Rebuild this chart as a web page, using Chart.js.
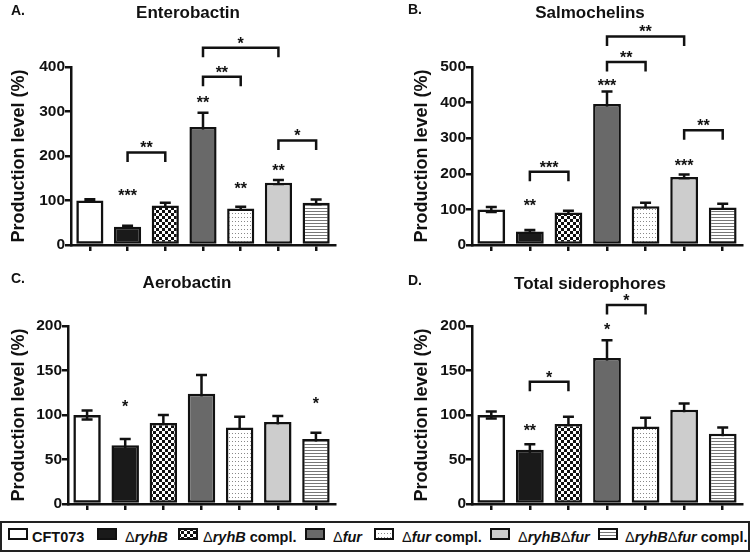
<!DOCTYPE html>
<html>
<head>
<meta charset="utf-8">
<script src="https://cdn.jsdelivr.net/npm/chart.js@4.4.0/dist/chart.umd.min.js"></script>
<style>
  body { margin: 0; background: #fff; width: 750px; height: 552px; position: relative; overflow: hidden;
         font-family: "Liberation Sans", Arial, sans-serif; color: #111; }
  .panel { position: absolute; width: 375px; height: 260px; }
  .letter { position: absolute; font-weight: bold; font-size: 14px; line-height: 1; }
  .title { position: absolute; font-weight: bold; font-size: 17px; line-height: 1; transform: translateX(-50%); white-space: nowrap; }
  #legend { position: absolute; left: 0; top: 521px; width: 746px; height: 27px; border: 2px solid #222; }
  .icon { position: absolute; top: 5px; }
  .lbl { position: absolute; top: 7px; font-weight: bold; font-size: 14.5px; line-height: 1; white-space: nowrap; }
  .lbl .d { font-weight: normal; }
</style>
</head>
<body>
<canvas id="chartA" class="panel" width="375" height="260" style="left:0;top:0"></canvas>
<canvas id="chartB" class="panel" width="375" height="260" style="left:375px;top:0"></canvas>
<canvas id="chartC" class="panel" width="375" height="260" style="left:0;top:260px"></canvas>
<canvas id="chartD" class="panel" width="375" height="260" style="left:375px;top:260px"></canvas>

<div class="letter" style="left:11px;top:3px">A.</div>
<div class="letter" style="left:408px;top:2px">B.</div>
<div class="letter" style="left:11px;top:271px">C.</div>
<div class="letter" style="left:408px;top:273px">D.</div>
<div class="title" style="left:188px;top:4px">Enterobactin</div>
<div class="title" style="left:590px;top:4px">Salmochelins</div>
<div class="title" style="left:187px;top:274px">Aerobactin</div>
<div class="title" style="left:590px;top:275px">Total siderophores</div>

<div id="legend"></div>

<script>
// strains (x categories)
const strains = ["CFT073", "ΔryhB", "ΔryhB compl.", "Δfur", "Δfur compl.", "ΔryhBΔfur", "ΔryhBΔfur compl."];

// A. Enterobactin
const enteroMean = [100, 41, 89, 265, 82, 140, 95];
const enteroErr = [3, 2, 6, 32, 4, 6, 7];
// B. Salmochelins
const salmoMean = [100, 38, 91, 396, 109, 191, 105];
const salmoErr = [7, 4, 5, 35, 10, 7, 11];
// C. Aerobactin
const aeroMean = [100, 66, 91, 124, 86, 92, 73];
const aeroErr = [5, 7, 9, 21, 12, 7, 7];
// D. Total siderophores
const totalMean = [100, 61, 90, 164, 87, 106, 79];
const totalErr = [4, 6, 8, 20, 10, 7, 7];

// significance over single bars: [bar index, label, height in %]
const enteroStars = [[1, "***", 120], [3, "**", 327], [4, "**", 135], [5, "**", 176]];
const salmoStars = [[1, "**", 121], [3, "***", 458], [5, "***", 234]];
const aeroStars = [[1, "*", 114], [6, "*", 117]];
const totalStars = [[1, "**", 87], [3, "*", 200]];

// brackets between bars: [from, to, height in %, label]
const enteroBrackets = [[1, 2, 208, "**"], [3, 4, 378, "**"], [3, 5, 443, "*"], [5, 6, 235, "*"]];
const salmoBrackets = [[1, 2, 206, "***"], [3, 4, 514, "**"], [3, 5, 586, "**"], [5, 6, 322, "**"]];
const aeroBrackets = [];
const totalBrackets = [[1, 2, 137.5, "*"], [3, 4, 223.6, "*"]];

const INK = "#111";
const FONT = "'Liberation Sans', Arial, sans-serif";

function makeFill(kind) {
  if (kind === "white") return "rgba(255,255,255,0)";
  if (kind === "black") return "#1a1a1a";
  if (kind === "dark") return "#696969";
  if (kind === "light") return "#cdcdcd";
  let c = document.createElement("canvas");
  let g = c.getContext("2d");
  if (kind === "checker") {
    c.width = 6; c.height = 6;
    g.fillStyle = "#fff"; g.fillRect(0, 0, 6, 6);
    g.fillStyle = "#111"; g.fillRect(0, 0, 3, 3); g.fillRect(3, 3, 3, 3);
  } else if (kind === "dots") {
    c.width = 3; c.height = 4;
    g.fillStyle = "#fff"; g.fillRect(0, 0, 3, 4);
    g.fillStyle = "#888"; g.fillRect(1, 1, 1, 1);
  } else if (kind === "stripes") {
    c.width = 4; c.height = 3;
    g.fillStyle = "#fff"; g.fillRect(0, 0, 4, 3);
    g.fillStyle = "#777"; g.fillRect(0, 1, 4, 1);
  }
  return g.createPattern(c, "repeat");
}

const fillKinds = ["white", "black", "checker", "dark", "dots", "light", "stripes"];
const fills = fillKinds.map(makeFill);

const annotate = {
  id: "annotate",
  beforeDatasetsDraw(chart) {
    let ctx = chart.ctx, xs = chart.scales.x, ys = chart.scales.y;
    let ds = chart.data.datasets[0];
    ctx.save();
    ctx.strokeStyle = INK;
    ctx.lineWidth = 2.5;
    ds.data.forEach(function (m, i) {
      let cx = xs.getPixelForValue(i);
      let yt = ys.getPixelForValue(m + ds.errors[i]);
      let yb = ys.getPixelForValue(m - ds.errors[i]);
      ctx.beginPath();
      ctx.moveTo(cx, yb); ctx.lineTo(cx, yt);
      ctx.moveTo(cx - 5.5, yt); ctx.lineTo(cx + 5.5, yt);
      ctx.moveTo(cx - 5.5, yb); ctx.lineTo(cx + 5.5, yb);
      ctx.stroke();
    });
    ctx.restore();
  },
  afterDatasetsDraw(chart, args, opts) {
    let ctx = chart.ctx, xs = chart.scales.x, ys = chart.scales.y;
    ctx.save();
    ctx.fillStyle = INK;
    ctx.strokeStyle = INK;
    ctx.lineWidth = 2.5;
    ctx.font = "bold 16px " + FONT;
    ctx.textAlign = "center";
    ctx.textBaseline = "alphabetic";
    opts.stars.forEach(function (s) {
      ctx.fillText(s[1], xs.getPixelForValue(s[0]), ys.getPixelForValue(s[2]) + 9);
    });
    opts.brackets.forEach(function (b) {
      let x1 = xs.getPixelForValue(b[0]), x2 = xs.getPixelForValue(b[1]);
      let y = ys.getPixelForValue(b[2]);
      ctx.beginPath();
      ctx.moveTo(x1, y + 9.5); ctx.lineTo(x1, y); ctx.lineTo(x2, y); ctx.lineTo(x2, y + 9.5);
      ctx.stroke();
      ctx.fillText(b[3], (x1 + x2) / 2, y - 8 + 9);
    });
    ctx.restore();
  }
};

function makePanel(id, means, errs, yMax, yStep, stars, brackets, box) {
  let ctx = document.getElementById(id).getContext("2d");
  return new Chart(ctx, {
    type: "bar",
    data: {
      labels: strains,
      datasets: [{
        data: means,
        errors: errs,
        backgroundColor: fills,
        borderColor: INK,
        borderWidth: 2.5,
        borderSkipped: false,
        barPercentage: 0.72,
        categoryPercentage: 1
      }]
    },
    options: {
      responsive: false,
      animation: false,
      events: [],
      layout: { padding: { left: box.left, top: box.top, right: box.right, bottom: box.bottom } },
      plugins: {
        legend: { display: false },
        tooltip: { enabled: false },
        annotate: { stars: stars, brackets: brackets }
      },
      scales: {
        x: {
          offset: true,
          grid: { drawOnChartArea: false, offset: false, drawTicks: true, tickLength: 6, color: INK, lineWidth: 2.5 },
          border: { color: INK, width: 2.5 },
          ticks: { display: false },
          afterFit: function (s) { s.height = 15; }
        },
        y: {
          min: 0,
          max: yMax,
          ticks: { stepSize: yStep, color: INK, padding: 0, font: { family: FONT, size: 15.5, weight: "bold" } },
          grid: { drawOnChartArea: false, drawTicks: true, tickLength: 6, color: INK, lineWidth: 2.5 },
          border: { color: INK, width: 2.5 },
          title: { display: true, text: "Production level (%)", color: INK, padding: { top: 0, bottom: 0 },
                   font: { family: FONT, size: 18, weight: "bold" } },
          afterFit: function (s) { s.width = box.axisW; }
        }
      }
    },
    plugins: [annotate]
  });
}

makePanel("chartA", enteroMean, enteroErr, 400, 100, enteroStars, enteroBrackets, { left: 8, axisW: 63, top: 67, right: 40, bottom: 0 });
makePanel("chartB", salmoMean, salmoErr, 500, 100, salmoStars, salmoBrackets, { left: 36, axisW: 61, top: 67, right: 8, bottom: 0 });
makePanel("chartC", aeroMean, aeroErr, 200, 50, aeroStars, aeroBrackets, { left: 8, axisW: 60, top: 66, right: 40, bottom: 1 });
makePanel("chartD", totalMean, totalErr, 200, 50, totalStars, totalBrackets, { left: 36, axisW: 61, top: 66, right: 8, bottom: 1 });

// legend
const iconLeft = [8, 97, 178, 305, 374, 490, 598];
const textLeft = [32, 125, 203, 333, 402, 518, 625];
let legend = document.getElementById("legend");
strains.forEach(function (name, i) {
  let c = document.createElement("canvas");
  c.width = 20; c.height = 12;
  c.className = "icon";
  c.style.left = (iconLeft[i] - 2) + "px";
  let g = c.getContext("2d");
  g.fillStyle = fills[i];
  g.fillRect(0, 0, 20, 12);
  g.strokeStyle = INK;
  g.lineWidth = 2;
  g.strokeRect(1, 1, 18, 10);
  legend.appendChild(c);
  let t = document.createElement("div");
  t.className = "lbl";
  t.style.left = (textLeft[i] - 2) + "px";
  t.innerHTML = name.replace(/(ryhB|fur)/g, "<i>$1</i>").replace(/Δ/g, '<span class="d">Δ</span>');
  legend.appendChild(t);
});
</script>
</body>
</html>
